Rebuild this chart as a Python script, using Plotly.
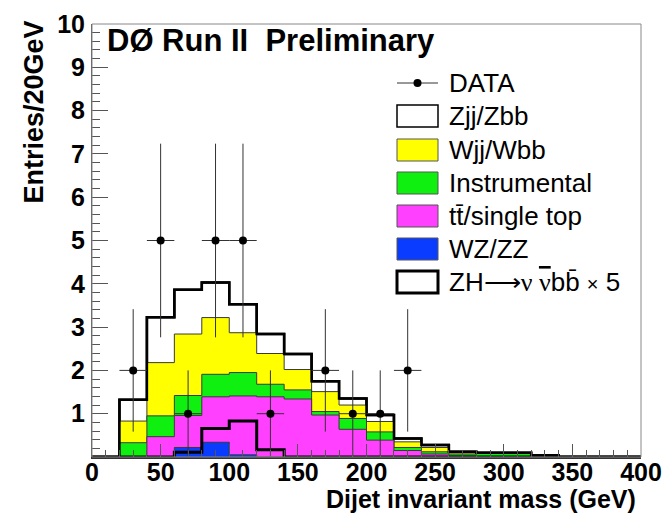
import numpy as np
import plotly.graph_objects as go

# ---------------- data ----------------
bin_edges = list(range(0, 420, 20))          # 0..400 GeV, 20 GeV bins
# per-process contributions (entries / 20 GeV), stacked bottom->top
wz_zz   = [0, 0,    0,    0.22, 0.34, 0.05, 0,    0,    0,    0,    0,    0,    0,    0,    0,     0,    0,    0, 0, 0]
ttbar   = [0, 0,    0.47, 0.74, 1.05, 1.36, 1.39, 1.34, 0.97, 0.64, 0.39, 0.15, 0.07, 0.02, 0.01,  0.01, 0,    0, 0, 0]
instr   = [0, 0.33, 0.48, 0.46, 0.52, 0.54, 0.29, 0.21, 0.08, 0.25, 0.19, 0.07, 0.05, 0.05, 0.075, 0.07, 0.01, 0, 0, 0]
wjj_wbb = [0, 0.50, 1.23, 1.42, 1.31, 0.92, 0.71, 0.47, 0.46, 0.31, 0.24, 0.13, 0.10, 0.03, 0.005, 0.01, 0.01, 0, 0, 0]
zjj_zbb = [0, 0.49, 1.05, 1.02, 0.81, 0.66, 0.45, 0.36, 0.24, 0.15, 0.15, 0.08, 0.06, 0.02, 0.01,  0.01, 0.02, 0, 0, 0]
signal_x5 = [0, 0, 0, 0.11, 0.66, 0.83, 0.17, 0, 0, 0, 0, 0, 0, 0, 0, 0, 0, 0, 0, 0]
data_counts = [0, 2, 5, 1, 5, 5, 1, 0, 2, 1, 1, 2, 0, 0, 0, 0, 0, 0, 0, 0]

SERIF = "Liberation Serif, Times New Roman, serif"
labels = ["DATA", "Zjj/Zbb", "Wjj/Wbb", "Instrumental", "tt\u0304/single top", "WZ/ZZ",
          "ZH<span style=\"font-family:" + SERIF + "\">\u27f6\u03bd "
          "<span style=\"text-decoration:overline\">\u03bd</span></span>bb\u0304 "
          "<span style=\"font-size:20px\">\u00d7</span> 5"]
x_tick_vals = [0, 50, 100, 150, 200, 250, 300, 350, 400]
y_tick_vals = list(range(0, 11))

# ---------------- style ----------------
FONT = "Liberation Sans, Arial, Helvetica, sans-serif"
C_WZ, C_TT, C_IN, C_WJ, C_ZJ = "#0a3cff", "#ff40ff", "#10f010", "#ffff00", "#ffffff"
OUTLINE = "#3a3a3a"

# the page body has an 8px margin: figure is offset by 8px
OFF = 8
W, H = 656, 511
# plot area in page pixels
L, R, T, B = 92, 641, 24, 457


def pxx(X):
    return (X - L) / (R - L)


def pxy(Y):
    return (B - Y) / (B - T)


edges = np.array(bin_edges, dtype=float)
centers = 0.5 * (edges[:-1] + edges[1:])
layers = [np.array(a, dtype=float) for a in (wz_zz, ttbar, instr, wjj_wbb, zjj_zbb)]
cum = np.cumsum(np.vstack(layers), axis=0)   # cumulative tops
colors = [C_WZ, C_TT, C_IN, C_WJ, C_ZJ]


def step_y(v):
    v = list(v)
    return v + [v[-1]]


fig = go.Figure()

for i in range(len(layers) - 1, -1, -1):
    is_total = (i == len(layers) - 1)
    fig.add_trace(go.Scatter(
        x=edges, y=step_y(cum[i]), mode="lines", line_shape="hv",
        fill="tozeroy", fillcolor=colors[i],
        line=dict(color="black" if is_total else OUTLINE, width=2.5 if is_total else 1),
        hoverinfo="skip", showlegend=False))

fig.add_trace(go.Scatter(
    x=edges, y=step_y(cum[-1]), mode="lines", line_shape="hv",
    line=dict(color="black", width=2.5), hoverinfo="skip", showlegend=False))

fig.add_trace(go.Scatter(
    x=edges, y=step_y(signal_x5), mode="lines", line_shape="hv",
    line=dict(color="black", width=3), hoverinfo="skip", showlegend=False))

dc = np.array(data_counts, dtype=float)
m = dc > 0
fig.add_trace(go.Scatter(
    x=centers[m], y=dc[m], mode="markers",
    marker=dict(color="black", size=8, symbol="circle"),
    error_y=dict(type="data", array=np.sqrt(dc[m]), color="#333333", thickness=1, width=0),
    error_x=dict(type="constant", value=10, color="#333333", thickness=1, width=0),
    hoverinfo="skip", showlegend=False))

shapes = []
annotations = []

shapes.append(dict(type="rect", xref="paper", yref="paper", x0=0, y0=0, x1=1, y1=1,
                   line=dict(color="#888888", width=1), fillcolor="rgba(0,0,0,0)", layer="above"))

# ---------------- manual legend ----------------
rows = [83, 116, 150, 183, 216, 249, 282]
bx0, bx1, bh = 397, 438, 22
for k, (lab, ry) in enumerate(zip(labels, rows)):
    if k == 0:
        shapes.append(dict(type="line", xref="paper", yref="paper",
                           x0=pxx(bx0), x1=pxx(bx1), y0=pxy(ry), y1=pxy(ry),
                           line=dict(color="#333333", width=1)))
        shapes.append(dict(type="circle", xref="paper", yref="paper",
                           x0=pxx(417.5 - 4), x1=pxx(417.5 + 4), y0=pxy(ry + 4), y1=pxy(ry - 4),
                           fillcolor="black", line=dict(color="black", width=0)))
    else:
        fillc = {1: C_ZJ, 2: C_WJ, 3: C_IN, 4: C_TT, 5: C_WZ, 6: "#ffffff"}[k]
        lc = "black" if k in (1, 6) else "#555555"
        lw = 3 if k == 6 else (1.5 if k == 1 else 1)
        shapes.append(dict(type="rect", xref="paper", yref="paper",
                           x0=pxx(bx0), x1=pxx(bx1), y0=pxy(ry + bh / 2), y1=pxy(ry - bh / 2),
                           fillcolor=fillc, line=dict(color=lc, width=lw)))
    annotations.append(dict(xref="paper", yref="paper", x=pxx(447), y=pxy(ry),
                            xanchor="left", yanchor="middle", text=lab, showarrow=False,
                            font=dict(family=FONT, size=26, color="black")))

annotations.append(dict(xref="paper", yref="paper", x=pxx(105), y=pxy(40),
                        xanchor="left", yanchor="middle",
                        text="D\u00d8 Run II\u00a0 Preliminary", showarrow=False,
                        font=dict(family=FONT, size=31, color="black", weight="bold")))
annotations.append(dict(xref="paper", yref="paper", x=pxx(638), y=pxy(499),
                        xanchor="right", yanchor="middle",
                        text="Dijet invariant mass (GeV)", showarrow=False,
                        font=dict(family=FONT, size=25, color="black", weight="bold")))
annotations.append(dict(xref="paper", yref="paper", x=pxx(33), y=pxy(19),
                        xanchor="center", yanchor="top", textangle=-90,
                        text="Entries/20GeV", showarrow=False,
                        font=dict(family=FONT, size=27, color="black", weight="bold")))

fig.update_layout(
    width=W, height=H,
    margin=dict(l=L - OFF, r=(W + OFF) - R, t=T - OFF, b=(H + OFF) - B, pad=0,
                autoexpand=False),
    paper_bgcolor="white", plot_bgcolor="white",
    shapes=shapes, annotations=annotations, showlegend=False,
    xaxis=dict(range=[0, 400], tickmode="array", tickvals=x_tick_vals,
               ticktext=[str(v) for v in x_tick_vals], automargin=False,
               ticks="inside", ticklen=13, tickcolor="#555555", tickwidth=1,
               minor=dict(tickmode="linear", tick0=0, dtick=10, ticks="inside",
                          ticklen=7, tickcolor="#555555", tickwidth=1),
               showgrid=False, zeroline=False, showline=True, linecolor="#333333", linewidth=1.5,
               tickfont=dict(family=FONT, size=25, color="black", weight="bold"),
               ticklabelstandoff=-8, fixedrange=True),
    yaxis=dict(range=[0, 10], tickmode="array", tickvals=y_tick_vals,
               ticktext=[""] + [str(v) for v in y_tick_vals[1:]], automargin=False,
               ticks="inside", ticklen=16, tickcolor="#555555", tickwidth=1,
               minor=dict(tickmode="linear", tick0=0, dtick=0.2, ticks="inside",
                          ticklen=8, tickcolor="#555555", tickwidth=1),
               showgrid=False, zeroline=False, showline=True, linecolor="#555555", linewidth=1,
               tickfont=dict(family=FONT, size=25, color="black", weight="bold"),
               ticklabelstandoff=1, fixedrange=True),
)

fig.write_html("out.html")
